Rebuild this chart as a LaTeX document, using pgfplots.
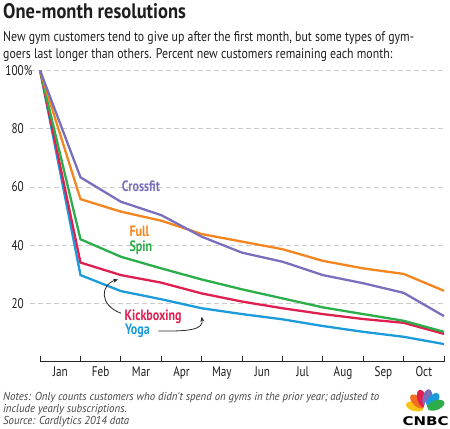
\documentclass[border=0pt]{standalone}
\usepackage{fontspec}
\setmainfont[FakeStretch=0.8]{PT Sans}
\newfontfamily\titlefont[FakeStretch=0.88]{PT Sans}
\newfontfamily\subfont[FakeStretch=0.845]{PT Sans}
\newfontfamily\notefont[FakeStretch=0.94]{PT Sans}
\newfontfamily\logofont[FakeStretch=1.25]{DejaVu Sans}
\usepackage{pgfplots}
\pgfplotsset{compat=1.18}
\usetikzlibrary{arrows.meta}
\definecolor{cfit}{HTML}{7A6FBC}
\definecolor{cfull}{HTML}{F5851F}
\definecolor{cspin}{HTML}{2BAE4A}
\definecolor{ckick}{HTML}{DF1F4F}
\definecolor{cyoga}{HTML}{1C9BDB}
\definecolor{txt}{HTML}{1E1E1E}
\definecolor{notes}{HTML}{444444}
\tikzset{serlab/.style={anchor=west, inner sep=0pt, font=\fontsize{15bp}{17bp}\selectfont\bfseries}}
\begin{document}
\begin{tikzpicture}[x=1bp,y=1bp]
\path[use as bounding box] (0,0) rectangle (450,-428);
% title & subtitle
\node[anchor=base west, inner sep=0pt, text=txt, font=\titlefont\fontsize{21bp}{23bp}\selectfont\bfseries] at (3,-18.3) {One-month resolutions};
\node[anchor=base west, inner sep=0pt, text=txt, font=\subfont\fontsize{14bp}{16bp}\selectfont] at (3,-41) {New gym customers tend to give up after the first month, but some types of gym-};
\node[anchor=base west, inner sep=0pt, text=txt, font=\subfont\fontsize{14bp}{16bp}\selectfont] at (3,-58.5) {goers last longer than others. Percent new customers remaining each month:};
\begin{axis}[
  at={(30bp,-361.5bp)}, anchor=south west,
  scale only axis, width=414bp, height=291bp,
  xmin=-0.25, xmax=10, ymin=0, ymax=100,
  clip=false,
  axis line style={draw=none},
  ytick={20,40,60,80,100},
  yticklabels={20,40,60,80,100\rlap{\%}},
  ymajorgrids,
  grid style={gray!40, line width=0.8bp, dash pattern=on 4.5bp off 3.5bp},
  ytick style={draw=none},
  yticklabel style={anchor=east, inner sep=0pt, xshift=-6bp, text=txt, font=\fontsize{14bp}{16bp}\selectfont},
  xtick={0,1,2,3,4,5,6,7,8,9,10},
  xticklabels={},
  xtick pos=bottom,
  xtick align=inside,
  xtick style={draw=black!85, line width=0.9bp},
  major tick length=6bp,
  extra x ticks={0.5,1.5,2.5,3.5,4.5,5.5,6.5,7.5,8.5,9.5},
  extra x tick labels={Jan,Feb,Mar,Apr,May,Jun,Jul,Aug,Sep,Oct},
  extra x tick style={major tick length=0pt, tick style={draw=none}},
  xticklabel style={anchor=north, inner sep=0pt, yshift=-5bp, text=txt, font=\fontsize{14bp}{16bp}\selectfont},
  /pgf/number format/assume math mode=true,
]
\draw[black!85, line width=0.9bp] (axis cs:0,0) -- (axis cs:10,0);
\addplot[cyoga, line width=2.3bp, no marks] coordinates {(0,100) (1,29.7) (2,24.2) (3,21.4) (4,18.3) (5,16.3) (6,14.5) (7,12.2) (8,10.2) (9,8.5) (10,6.0)};
\addplot[ckick, line width=2.3bp, no marks] coordinates {(0,100) (1,34.0) (2,29.7) (3,27.1) (4,23.4) (5,20.6) (6,18.3) (7,16.3) (8,14.6) (9,13.3) (10,9.5)};
\addplot[cspin, line width=2.3bp, no marks] coordinates {(0,100) (1,42.0) (2,36.0) (3,32.0) (4,28.2) (5,24.8) (6,21.7) (7,18.6) (8,16.3) (9,14.0) (10,10.2)};
\addplot[cfull, line width=2.3bp, no marks] coordinates {(0,100) (1,55.8) (2,51.5) (3,48.4) (4,43.8) (5,41.2) (6,38.6) (7,34.6) (8,32.0) (9,30.1) (10,24.3)};
\addplot[cfit, line width=2.3bp, no marks] coordinates {(0,100) (1,63.3) (2,54.9) (3,50.3) (4,42.9) (5,37.4) (6,34.3) (7,29.7) (8,26.9) (9,23.6) (10,15.6)};
% series labels
\node[serlab, text=cfit] at (axis cs:2.02,60.1) {Crossfit};
\node[serlab, text=cfull] at (axis cs:2.21,44.6) {Full};
\node[serlab, text=cspin] at (axis cs:2.21,39.2) {Spin};
\node[serlab, text=ckick] at (axis cs:2.09,15.4) {Kickboxing};
\node[serlab, text=cyoga] at (axis cs:2.10,10.5) {Yoga};
% arrows
\draw[-{Stealth[length=5bp,width=4bp]}, line width=0.8bp, black!85] (axis cs:2.0,16.6) .. controls (axis cs:1.45,19.5) and (axis cs:1.5,26.5) .. (axis cs:1.93,28.2);
\draw[-{Stealth[length=5bp,width=4bp]}, line width=0.8bp, black!85] (axis cs:2.93,10.5) .. controls (axis cs:3.7,10.3) and (axis cs:4.05,11) .. (axis cs:4.0,15.4);
\end{axis}
% notes
\node[anchor=base west, inner sep=0pt, text=notes, font=\notefont\fontsize{11.5bp}{12.5bp}\selectfont\itshape] at (3,-400) {Notes: Only counts customers who didn't spend on gyms in the prior year; adjusted to};
\node[anchor=base west, inner sep=0pt, text=notes, font=\notefont\fontsize{11.5bp}{12.5bp}\selectfont\itshape] at (3,-412) {include yearly subscriptions.};
\node[anchor=base west, inner sep=0pt, text=notes, font=\notefont\fontsize{11.5bp}{12.5bp}\selectfont\itshape] at (3,-424.5) {Source: Cardlytics 2014 data};
% CNBC logo
\begin{scope}[shift={(425.5,-409)}]
\foreach \ang/\col in {166/F9C416, 137/F26F21, 108/DE1F4F, 80/7A6FBC, 50/1C9BDB, 20/2BAE4A}{
  \definecolor{fc}{HTML}{\col}
  \fill[fc, rotate=\ang] (11,0) ellipse (9 and 4.8);
}
\fill[white] (-2.5,-0.5) -- (0,7) -- (2.5,-0.5) -- cycle;
\end{scope}
\node[anchor=base, inner sep=0pt, font=\logofont\fontsize{12bp}{12bp}\selectfont\bfseries] at (425.5,-425) {CNBC};
\end{tikzpicture}
\end{document}
